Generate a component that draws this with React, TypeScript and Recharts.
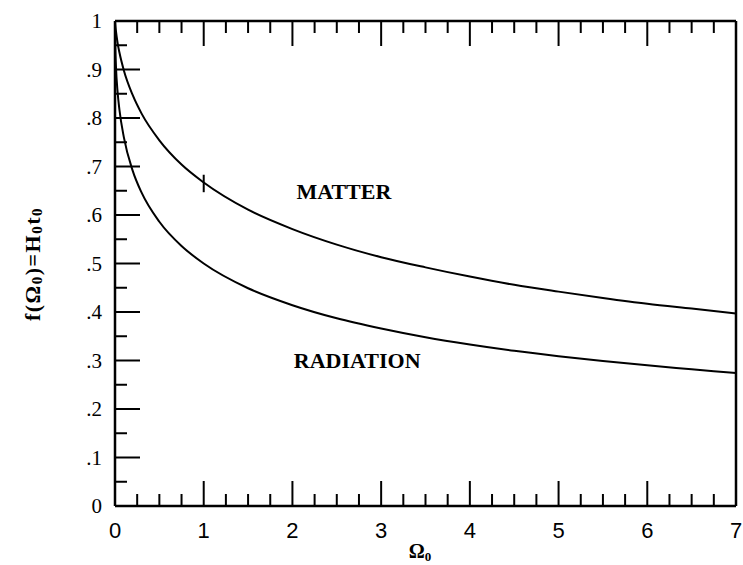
import { LineChart, Line, XAxis, YAxis, ReferenceLine, ReferenceDot } from "recharts";

const omega = [0, 0.003, 0.01, 0.03, 0.05, 0.1, 0.2, 0.3, 0.5, 0.75, 1, 1.5, 2, 2.5, 3, 3.5, 4, 4.5, 5, 5.5, 6, 6.5, 7];

// H0 t0 for a matter dominated universe
const matter = [1, 0.992, 0.98, 0.954, 0.935, 0.898, 0.847, 0.809, 0.754, 0.704, 0.667, 0.611, 0.571, 0.539, 0.513, 0.492, 0.473, 0.456, 0.442, 0.429, 0.417, 0.407, 0.397];

// H0 t0 for a radiation dominated universe
const radiation = [1, 0.948, 0.909, 0.852, 0.817, 0.76, 0.691, 0.646, 0.586, 0.536, 0.5, 0.449, 0.414, 0.387, 0.366, 0.348, 0.333, 0.32, 0.309, 0.299, 0.29, 0.282, 0.274];

const xTicks = [0, 0.25, 0.5, 0.75, 1, 1.25, 1.5, 1.75, 2, 2.25, 2.5, 2.75, 3, 3.25, 3.5, 3.75, 4, 4.25, 4.5, 4.75, 5, 5.25, 5.5, 5.75, 6, 6.25, 6.5, 6.75, 7];
const xTickLabels = ["0", "1", "2", "3", "4", "5", "6", "7"];

const yTicks = [0, 0.05, 0.1, 0.15, 0.2, 0.25, 0.3, 0.35, 0.4, 0.45, 0.5, 0.55, 0.6, 0.65, 0.7, 0.75, 0.8, 0.85, 0.9, 0.95, 1];
const yTickLabels = ["0", ".1", ".2", ".3", ".4", ".5", ".6", ".7", ".8", ".9", "1"];

// little bar drawn across the matter curve at Omega = 1
const markOmega = 1;
const markSpan = [0.647, 0.683];

const rows = omega.map((o, i) => ({ omega: o, matter: matter[i], radiation: radiation[i] }));

const INK = "#000";
const MAJOR = 25;
const MINOR = 12;

const isMajor = (v: number, step: number) => Math.abs(v / step - Math.round(v / step)) < 1e-6;

function XTick(props: any) {
  const { x, y, payload, side } = props;
  const v = payload.value;
  const major = isMajor(v, 1);
  const len = major ? MAJOR : MINOR;
  const dir = side === "bottom" ? -1 : 1;
  return (
    <g>
      <line x1={x} x2={x} y1={y} y2={y + dir * len} stroke={INK} strokeWidth={2} />
      {side === "bottom" && major && (
        <text x={x} y={y + 32} textAnchor="middle" fontSize={22} fontFamily="Liberation Sans" fill={INK}>
          {xTickLabels[Math.round(v)]}
        </text>
      )}
    </g>
  );
}

function YTick(props: any) {
  const { x, y, payload, side } = props;
  const v = payload.value;
  const major = isMajor(v, 0.1);
  const len = side === "left" ? (major ? MAJOR : MINOR) : major ? 21 : 9;
  const dir = side === "left" ? 1 : -1;
  return (
    <g>
      <line x1={x} x2={x + dir * len} y1={y} y2={y} stroke={INK} strokeWidth={2} />
      {side === "left" && major && (
        <text x={x - 13} y={y + 7} textAnchor="end" fontSize={21} fontFamily="Liberation Serif" fill={INK}>
          {yTickLabels[Math.round(v * 10)]}
        </text>
      )}
    </g>
  );
}

function YTitle() {
  return (
    <text
      x={32}
      y={264}
      transform="rotate(-90, 32, 264)"
      textAnchor="middle"
      dominantBaseline="central"
      fontSize={22}
      fontFamily="Liberation Serif"
      fontWeight="bold"
      letterSpacing={1.5}
      fill={INK}
    >
      f(Ω<tspan fontSize={15} dy={5}>0</tspan>
      <tspan dy={-5}>)=H</tspan>
      <tspan fontSize={15} dy={5}>0</tspan>
      <tspan dy={-5}>t</tspan>
      <tspan fontSize={15} dy={5}>0</tspan>
    </text>
  );
}

function XTitle() {
  return (
    <text x={420} y={558} textAnchor="middle" fontSize={20} fontFamily="Liberation Serif" fontWeight="bold" fill={INK}>
      Ω<tspan fontSize={13} dy={3}>0</tspan>
    </text>
  );
}

const curveLabel = {
  position: "center" as const,
  fill: INK,
  fontSize: 22,
  fontFamily: "Liberation Serif",
  fontWeight: "bold",
};

export default function App() {
  return (
    <div style={{ position: "absolute", left: 0, top: 0, width: 743, height: 565, overflow: "hidden", background: "#fff" }}>
      <LineChart width={743} height={565} data={rows} margin={{ top: 20, right: 6, bottom: 58, left: 114 }}>
        <XAxis
          dataKey="omega"
          type="number"
          domain={[0, 7]}
          ticks={xTicks}
          interval={0}
          height={1}
          tickSize={0}
          tickMargin={0}
          tickLine={false}
          axisLine={{ stroke: INK, strokeWidth: 2.5 }}
          tick={(p: any) => <XTick {...p} side="bottom" />}
          label={<XTitle />}
        />
        <XAxis
          xAxisId="top"
          orientation="top"
          dataKey="omega"
          type="number"
          domain={[0, 7]}
          ticks={xTicks}
          interval={0}
          height={1}
          tickSize={0}
          tickMargin={0}
          tickLine={false}
          axisLine={{ stroke: INK, strokeWidth: 2.5 }}
          tick={(p: any) => <XTick {...p} side="top" />}
        />
        <YAxis
          type="number"
          domain={[0, 1]}
          ticks={yTicks}
          interval={0}
          width={1}
          tickSize={0}
          tickMargin={0}
          tickLine={false}
          axisLine={{ stroke: INK, strokeWidth: 2.5 }}
          tick={(p: any) => <YTick {...p} side="left" />}
          label={<YTitle />}
        />
        <YAxis
          yAxisId="right"
          orientation="right"
          type="number"
          domain={[0, 1]}
          ticks={yTicks}
          interval={0}
          width={1}
          tickSize={0}
          tickMargin={0}
          tickLine={false}
          axisLine={{ stroke: INK, strokeWidth: 2.5 }}
          tick={(p: any) => <YTick {...p} side="right" />}
        />
        <Line type="monotone" dataKey="matter" stroke={INK} strokeWidth={2} dot={false} isAnimationActive={false} />
        <Line type="monotone" dataKey="radiation" stroke={INK} strokeWidth={2} dot={false} isAnimationActive={false} />
        <ReferenceLine
          segment={[
            { x: markOmega, y: markSpan[0] },
            { x: markOmega, y: markSpan[1] },
          ]}
          stroke={INK}
          strokeWidth={2}
        />
        <ReferenceDot x={2.58} y={0.649} r={0} fill="none" stroke="none" label={{ value: "MATTER", ...curveLabel }} />
        <ReferenceDot x={2.73} y={0.3} r={0} fill="none" stroke="none" label={{ value: "RADIATION", ...curveLabel }} />
      </LineChart>
    </div>
  );
}
